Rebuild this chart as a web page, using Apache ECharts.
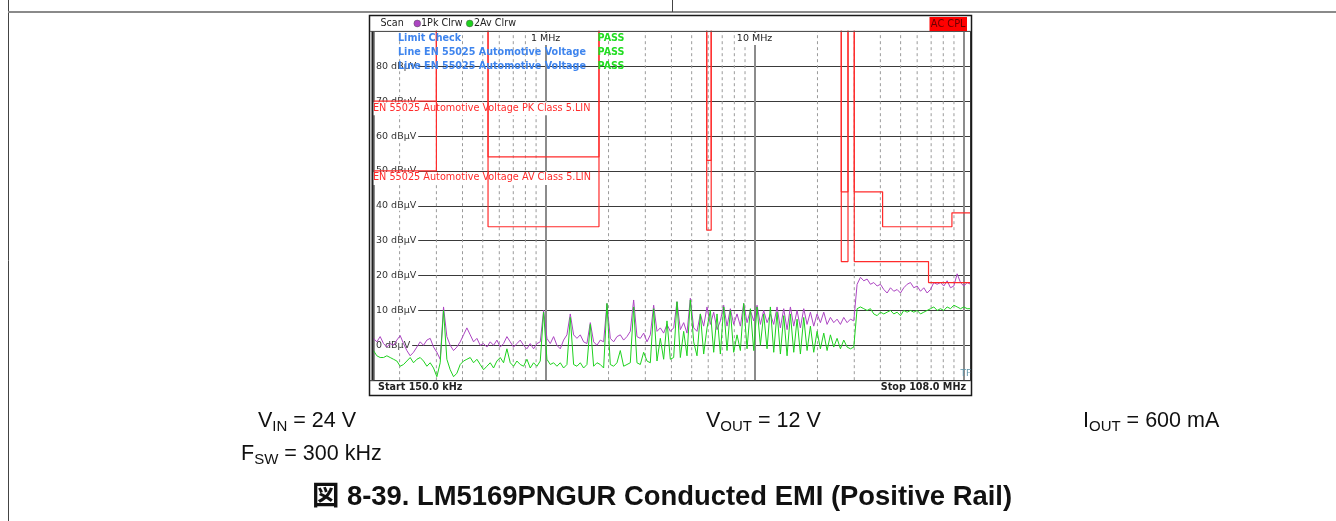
<!DOCTYPE html>
<html>
<head>
<meta charset="utf-8">
<script src="https://cdn.jsdelivr.net/npm/echarts@6/dist/echarts.min.js"></script>
<style>
  html, body { margin: 0; padding: 0; background: #fff; }
  #chart { width: 1336px; height: 521px; }
</style>
</head>
<body>
<div id="chart"></div>
<script>
// ---- sweep settings (MHz) ----
const SWEEP_START_MHZ = 0.15;
const SWEEP_STOP_MHZ = 108;
const LEVEL_MIN = -10;
const LEVEL_MAX = 90;
const LEVEL_STEP = 10;

// Trace 1: peak detector, clear/write (dBµV), log-spaced sweep points
const pkLevels = [
  2.0, 1.0, 2.5, 0.5, -0.5, 0.5, 0.0, 1.5, 2.8, 0.5,
  -1.5, -3.0, -2.0, -0.5, 1.0, 0.0, 1.5, 2.0, -0.5, -2.0,
  -4.0, 11.0, 2.5, 0.0, -1.5, -0.5, 1.0, 3.0, 5.0, 3.0,
  1.0, 2.0, 0.0, 0.5, -0.5, 1.0, 0.0, 1.5, -0.5, 0.5,
  2.5, 1.0, -0.5, 0.5, 1.5, 0.0, -1.0, 0.5, -1.0, 0.5,
  1.0, 10.0, 2.0, 0.5, 2.5, 0.0, -1.0, 1.5, 3.0,
  9.0, 3.0, 2.0, 3.0, 1.0, 0.5, 6.5, 1.0, 0.0, 1.5,
  1.0, 12.0, 2.0, 1.0, 2.5, 3.0, 1.5, 2.5, 4.0, 13.0,
  2.5, 2.0, 3.5, 1.0, 3.0, 11.5, 4.0, 5.0, 3.5, 6.0,
  4.0, 5.0, 12.5, 4.5, 6.5, 3.5, 13.5, 5.0, 4.0, 9.0,
  5.5, 11.0, 6.0, 9.5, 4.5, 7.0, 11.5, 5.5, 10.5, 6.0,
  9.0, 5.5, 12.0, 6.5, 10.0, 7.0, 11.5, 6.0, 10.0, 6.5,
  9.0,
  6.0, 11.0, 5.0, 10.5, 4.5, 11.0, 5.5, 10.0, 5.0, 10.5,
  6.0, 9.5, 5.5, 9.0, 6.5, 9.5, 6.0, 8.0, 6.5, 7.5,
  6.0, 8.0, 6.5, 7.5, 7.0, 17.5, 19.5, 18.5, 19.0, 17.5,
  18.0, 17.0, 17.5, 16.0, 15.0, 16.5, 15.5, 16.0, 15.0, 16.5,
  17.5, 18.0, 16.5, 17.0, 15.5, 16.5, 15.0, 16.0, 18.0, 17.5,
  18.0, 17.0, 18.5, 16.5, 17.0, 20.5, 18.0, 17.0, 18.0, 17.5
];

// Trace 2: average detector, clear/write (dBµV), same sweep points
const avLevels = [
  -1.5, -3.0, -3.5, -3.5, -3.0, -3.5, -4.0, -4.5, -6.0, -5.5,
  -4.5, -3.5, -5.0, -4.0, -3.5, -4.5, -6.0, -5.0, -6.5, -9.0,
  -5.0, 10.0, -4.0, -7.0, -9.0, -8.0, -5.5, -4.5, -4.0, -3.5,
  -5.0, -4.0, -5.5, -7.0, -6.0, -5.0, -6.5, -4.5, -3.5, -5.0,
  -1.0, -5.0, -6.0, -4.5, -5.5, -6.0, -4.0, -6.5, -5.0, -6.0,
  -4.5, 9.5, -4.0, -5.5, -5.0, -6.0, -5.0, -6.5, -5.5,
  8.0, -5.5, -6.0, -5.0, -6.5, -5.5, 6.0, -6.0, -5.0, -5.5,
  -6.5, 12.0, -5.5, -6.0, -5.0, -1.5, -6.0, -5.5, -5.0, 11.0,
  -5.0, -5.5, -2.0, -4.5, -5.0, 10.5, -4.5, 2.0, -4.0, 7.0,
  -4.0, -3.5, 12.5, -3.5, 4.0, -3.0, 13.0, 1.0, -3.0, 9.0,
  -2.5, 5.0, 10.0, -2.0, 9.0, -2.5, 11.0, -1.5, 10.0, -2.0,
  3.0, -1.5, 12.0, -1.0, 10.5, -1.5, 11.0, 0.0, 9.0, -1.0,
  11.0,
  -2.0, 9.5, -2.5, 8.5, -3.0, 9.0, -2.0, 7.5, -2.5, 8.0,
  -1.5, 5.5, -2.0, 4.0, -1.0, 3.5, -1.5, 3.0, -0.5, 2.0,
  -1.0, 1.5, -0.5, -1.0, -0.5, 10.5, 11.0, 10.5, 10.0, 10.5,
  9.0, 8.5, 9.5, 9.0, 9.5, 10.0, 9.0, 9.5, 8.5, 10.0,
  9.5, 10.0, 9.5, 10.0, 9.0, 9.5, 10.0, 10.5, 11.0, 10.0,
  10.5, 10.0, 11.0, 10.5, 11.5, 11.0, 10.5, 11.0, 10.5, 10.5
];

// Limit lines [MHz, dBµV]; bands without a limit run off the top of the screen
const OFF_SCALE = 150;
const pkLimit = [
  [0.15, 70], [0.3, 70], [0.3, OFF_SCALE], [0.53, OFF_SCALE], [0.53, 54], [1.8, 54],
  [1.8, OFF_SCALE], [5.9, OFF_SCALE], [5.9, 53], [6.2, 53], [6.2, OFF_SCALE],
  [26, OFF_SCALE], [26, 44], [28, 44], [28, OFF_SCALE], [30, OFF_SCALE], [30, 44],
  [41, 44], [41, 34], [88, 34], [88, 38], [108, 38]
];
const avLimit = [
  [0.15, 50], [0.3, 50], [0.3, OFF_SCALE], [0.53, OFF_SCALE], [0.53, 34], [1.8, 34],
  [1.8, OFF_SCALE], [5.9, OFF_SCALE], [5.9, 33], [6.2, 33], [6.2, OFF_SCALE],
  [26, OFF_SCALE], [26, 24], [28, 24], [28, OFF_SCALE], [30, OFF_SCALE], [30, 24],
  [68, 24], [68, 18], [108, 18]
];
const PK_LIMIT_NAME = 'EN 55025 Automotive Voltage PK Class 5.LIN';
const AV_LIMIT_NAME = 'EN 55025 Automotive Voltage AV Class 5.LIN';

// Axis text
const DECADE_LABELS = { 0: '1 MHz', 1: '10 MHz' };
const LEVEL_UNIT = 'dBµV';
const LABELLED_LEVELS = [0, 10, 20, 30, 40, 50, 60, 70, 80];
const MINOR_GRID_MHZ = [
  0.2, 0.3, 0.4, 0.5, 0.6, 0.7, 0.8, 0.9,
  2, 3, 4, 5, 6, 7, 8, 9,
  20, 30, 40, 50, 60, 70, 80, 90
];

// Header / footer text
const limitCheckRows = [
  ['Limit Check', 'PASS'],
  ['Line EN 55025 Automotive Voltage', 'PASS'],
  ['Line EN 55025 Automotive Voltage', 'PASS']
];
const conditions = [
  { main: 'V', sub: 'IN', rest: ' = 24 V', x: 258, y: 421 },
  { main: 'V', sub: 'OUT', rest: ' = 12 V', x: 706, y: 421 },
  { main: 'I', sub: 'OUT', rest: ' = 600 mA', x: 1083, y: 421 },
  { main: 'F', sub: 'SW', rest: ' = 300 kHz', x: 241, y: 454 }
];
const CAPTION = '図 8-39. LM5169PNGUR Conducted EMI (Positive Rail)';

// ---- drawing ----
const SMALL_FONT = 'DejaVu Sans';
const BODY_FONT = "'Liberation Sans', Arial, 'Noto Sans CJK JP', sans-serif";
const GRID = { left: 373.5, top: 31.4, width: 597, height: 348.8 };
const PK_COLOR = '#ac45c2';
const AV_COLOR = '#1ed21e';
const LIMIT_COLOR = '#ff2b2b';

function sweepPoints(levels) {
  const n = levels.length;
  const ratio = SWEEP_STOP_MHZ / SWEEP_START_MHZ;
  return levels.map((v, i) => [SWEEP_START_MHZ * Math.pow(ratio, i / (n - 1)), v]);
}

function minorGridData() {
  const out = [];
  MINOR_GRID_MHZ.forEach(f => {
    out.push([f, LEVEL_MIN], [f, LEVEL_MAX], [f, null]);
  });
  return out;
}

function decadeLabel(v) {
  const e = Math.log10(v);
  const r = Math.round(e);
  if (Math.abs(e - r) > 1e-6 || !(r in DECADE_LABELS)) return '';
  return '{b|' + DECADE_LABELS[r] + '}';
}

function levelLabel(v) {
  return LABELLED_LEVELS.indexOf(v) >= 0 ? '{b|' + v + ' ' + LEVEL_UNIT + '}' : '';
}

const chart = echarts.init(document.getElementById('chart'), null, {
  renderer: 'canvas', width: 1336, height: 521
});

function frameGraphics() {
  const els = [];
  // page rules
  els.push({ type: 'line', z: 10, shape: { x1: 8.5, y1: 0, x2: 8.5, y2: 521 }, style: { stroke: '#444', lineWidth: 1 } });
  els.push({ type: 'line', z: 10, shape: { x1: 8, y1: 12, x2: 1336, y2: 12 }, style: { stroke: '#8a8a8a', lineWidth: 2 } });
  els.push({ type: 'line', z: 10, shape: { x1: 672.5, y1: 0, x2: 672.5, y2: 12 }, style: { stroke: '#444', lineWidth: 1 } });

  // instrument screen frame
  els.push({ type: 'rect', z: 10, shape: { x: 369.5, y: 15.5, width: 602, height: 380 }, style: { fill: 'none', stroke: '#1a1a1a', lineWidth: 1.5 } });
  const gl = GRID.left, gt = GRID.top, gr = GRID.left + GRID.width, gb = GRID.top + GRID.height;
  els.push({ type: 'line', z: 10, shape: { x1: 370, y1: gt, x2: 971, y2: gt }, style: { stroke: '#555', lineWidth: 1 } });
  els.push({ type: 'line', z: 10, shape: { x1: gl - 1, y1: gt, x2: gl - 1, y2: gb }, style: { stroke: '#222', lineWidth: 2 } });
  els.push({ type: 'line', z: 10, shape: { x1: 370, y1: gb + 0.5, x2: 971, y2: gb + 0.5 }, style: { stroke: '#333', lineWidth: 1 } });
  els.push({ type: 'line', z: 10, shape: { x1: gr, y1: gt, x2: gr, y2: gb }, style: { stroke: '#333', lineWidth: 1 } });

  // header: trace legend
  const small = { fontFamily: SMALL_FONT, fontSize: 9.6, fill: '#222', verticalAlign: 'middle' };
  els.push({ type: 'text', z: 11, x: 380.5, y: 23.3, style: Object.assign({ text: 'Scan' }, small) });
  els.push({ type: 'circle', z: 11, shape: { cx: 417.3, cy: 23.5, r: 3.4 }, style: { fill: PK_COLOR, stroke: '#555', lineWidth: 0.5 } });
  els.push({ type: 'text', z: 11, x: 421, y: 23.3, style: Object.assign({ text: '1Pk Clrw' }, small) });
  els.push({ type: 'circle', z: 11, shape: { cx: 469.7, cy: 23.5, r: 3.4 }, style: { fill: AV_COLOR, stroke: '#555', lineWidth: 0.5 } });
  els.push({ type: 'text', z: 11, x: 474, y: 23.3, style: Object.assign({ text: '2Av Clrw' }, small) });
  els.push({ type: 'rect', z: 11, shape: { x: 929.5, y: 17, width: 37.5, height: 14 }, style: { fill: '#ff0000' } });
  els.push({ type: 'text', z: 12, x: 948.2, y: 24, style: Object.assign({ text: 'AC CPL', align: 'center' }, small, { fill: '#6a0000', fontSize: 9.8 }) });

  // limit check summary
  limitCheckRows.forEach((row, i) => {
    const y = 38.3 + i * 14;
    els.push({ type: 'text', z: 11, x: 398, y: y, style: { text: row[0], fontFamily: SMALL_FONT, fontSize: 9.6, fontWeight: 'bold', fill: '#3f85ee', verticalAlign: 'middle' } });
    els.push({ type: 'text', z: 11, x: 597.5, y: y, style: { text: row[1], fontFamily: SMALL_FONT, fontSize: 9.6, fontWeight: 'bold', fill: '#22dd22', verticalAlign: 'middle' } });
  });

  // footer of screen
  els.push({ type: 'text', z: 11, x: 378, y: 387, style: { text: 'Start ' + SWEEP_START_MHZ * 1000 + '.0 kHz', fontFamily: SMALL_FONT, fontSize: 9.6, fontWeight: 'bold', fill: '#222', verticalAlign: 'middle' } });
  els.push({ type: 'text', z: 11, x: 966, y: 387, style: { text: 'Stop ' + SWEEP_STOP_MHZ + '.0 MHz', fontFamily: SMALL_FONT, fontSize: 9.6, fontWeight: 'bold', fill: '#222', align: 'right', verticalAlign: 'middle' } });
  els.push({ type: 'text', z: 11, x: 960.5, y: 374, style: { text: 'TF', fontFamily: SMALL_FONT, fontSize: 9, fill: '#5f93a8', verticalAlign: 'middle' } });

  // test conditions under the screen
  conditions.forEach(c => {
    els.push({
      type: 'text', z: 11, x: c.x, y: c.y,
      style: {
        text: '{m|' + c.main + '}{s|' + c.sub + '}{m|' + c.rest + '}',
        verticalAlign: 'middle',
        rich: {
          m: { fontFamily: BODY_FONT, fontSize: 21.5, lineHeight: 26, fill: '#111', color: '#111' },
          s: { fontFamily: BODY_FONT, fontSize: 15, lineHeight: 15, fill: '#111', color: '#111', verticalAlign: 'bottom' }
        }
      }
    });
  });

  els.push({ type: 'text', z: 11, x: 662, y: 497, style: { text: CAPTION, fontFamily: BODY_FONT, fontSize: 27.4, fontWeight: 'bold', fill: '#111', align: 'center', verticalAlign: 'middle' } });
  return els;
}

function buildOption(limitLabelEls) {
  return {
    animation: false,
    backgroundColor: '#fff',
    grid: Object.assign({ containLabel: false }, GRID),
    xAxis: {
      type: 'log', logBase: 10, min: SWEEP_START_MHZ, max: SWEEP_STOP_MHZ, splitNumber: 3,
      position: 'top',
      axisLine: { show: false }, axisTick: { show: false },
      axisLabel: {
        inside: true, margin: 1.5, formatter: decadeLabel,
        rich: { b: { fontFamily: SMALL_FONT, fontSize: 9.5, color: '#222', backgroundColor: '#fff', padding: [1, 2, 1, 2] } }
      },
      splitLine: { show: true, lineStyle: { color: '#8c8c8c', width: 2 } }
    },
    yAxis: {
      type: 'value', min: LEVEL_MIN, max: LEVEL_MAX, interval: LEVEL_STEP,
      axisLine: { show: false }, axisTick: { show: false },
      axisLabel: {
        inside: true, margin: 1.5, formatter: levelLabel,
        rich: { b: { fontFamily: SMALL_FONT, fontSize: 9.5, color: '#333', backgroundColor: '#fff', padding: [0, 2, 0, 1] } }
      },
      splitLine: { show: true, lineStyle: { color: '#3a3a3a', width: 1 } }
    },
    series: [
      {
        name: 'minor grid', type: 'line', z: 0, silent: true, showSymbol: false, connectNulls: false,
        data: minorGridData(),
        lineStyle: { color: '#9a9a9a', width: 1, type: [3, 3] }
      },
      {
        name: '1Pk Clrw', type: 'line', z: 3, silent: true, showSymbol: false,
        data: sweepPoints(pkLevels),
        lineStyle: { color: PK_COLOR, width: 1 }
      },
      {
        name: '2Av Clrw', type: 'line', z: 4, silent: true, showSymbol: false,
        data: sweepPoints(avLevels),
        lineStyle: { color: AV_COLOR, width: 1 }
      },
      {
        name: PK_LIMIT_NAME, type: 'line', z: 5, silent: true, showSymbol: false, clip: true,
        data: pkLimit, lineStyle: { color: LIMIT_COLOR, width: 1.2 }
      },
      {
        name: AV_LIMIT_NAME, type: 'line', z: 5, silent: true, showSymbol: false, clip: true,
        data: avLimit, lineStyle: { color: LIMIT_COLOR, width: 1.2 }
      }
    ],
    graphic: { elements: frameGraphics().concat(limitLabelEls) }
  };
}

chart.setOption(buildOption([]));

// limit names sit just under each line's starting level
const limitLabels = [[pkLimit, PK_LIMIT_NAME], [avLimit, AV_LIMIT_NAME]].map(([pts, name]) => {
  const p = chart.convertToPixel({ gridIndex: 0 }, pts[0]);
  return {
    type: 'text', z: 1, x: p[0] - 0.5, y: p[1] + 1,
    style: {
      text: name, fontFamily: SMALL_FONT, fontSize: 9.7, fill: LIMIT_COLOR,
      backgroundColor: '#fff', padding: [1, 2, 2, 0], verticalAlign: 'top'
    }
  };
});
chart.setOption(buildOption(limitLabels), true);
</script>
</body>
</html>
